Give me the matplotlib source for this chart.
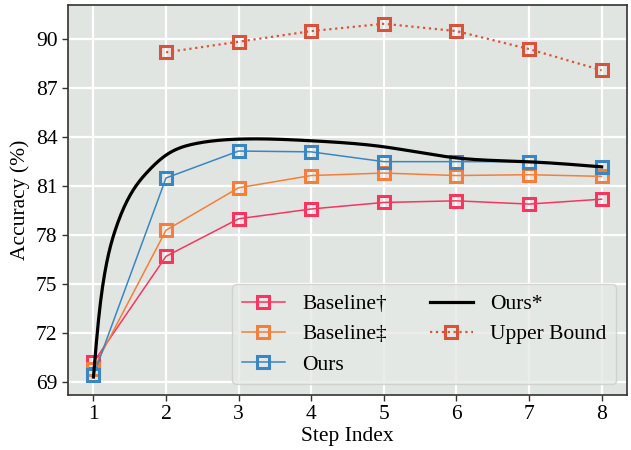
import numpy as np
import matplotlib
matplotlib.use("Agg")
import matplotlib.pyplot as plt

steps = [1, 2, 3, 4, 5, 6, 7, 8]
baseline_dagger = [70.2, 76.7, 79.0, 79.6, 80.0, 80.1, 79.9, 80.2]
baseline_ddagger = [69.8, 78.3, 80.9, 81.65, 81.8, 81.65, 81.7, 81.6]
ours = [69.4, 81.5, 83.15, 83.1, 82.5, 82.5, 82.5, 82.2]
upper_bound = [None, 89.2, 89.85, 90.5, 90.95, 90.5, 89.4, 88.1]

# Ours* smooth curve
ours_star_x = [1.0, 1.07, 1.165, 1.3, 1.5, 1.75, 2.0, 2.4, 3.0, 4.0, 5.0, 6.0, 7.0, 8.0]
ours_star_y = [69.3, 72.8, 75.9, 78.3, 80.4, 81.9, 82.9, 83.6, 83.88, 83.78, 83.41, 82.73, 82.49, 82.18]

yticks = [69, 72, 75, 78, 81, 84, 87, 90]
labels = ["Baseline\u2020", "Baseline\u2021", "Ours", "Ours*", "Upper Bound"]
colors = ["#f5365f", "#f47e3a", "#3a86c2", "#000000", "#d9533b"]


def natural_spline(x, y, xn):
    x = np.asarray(x, float); y = np.asarray(y, float)
    n = len(x); h = np.diff(x)
    A = np.zeros((n, n)); b = np.zeros(n)
    A[0, 0] = 1; A[-1, -1] = 1
    for i in range(1, n - 1):
        A[i, i - 1] = h[i - 1]; A[i, i] = 2 * (h[i - 1] + h[i]); A[i, i + 1] = h[i]
        b[i] = 3 * ((y[i + 1] - y[i]) / h[i] - (y[i] - y[i - 1]) / h[i - 1])
    c = np.linalg.solve(A, b)
    idx = np.clip(np.searchsorted(x, xn) - 1, 0, n - 2)
    bb = (y[1:] - y[:-1]) / h - h * (2 * c[:-1] + c[1:]) / 3
    d = (c[1:] - c[:-1]) / (3 * h)
    dx = xn - x[idx]
    return y[idx] + bb[idx] * dx + c[idx] * dx**2 + d[idx] * dx**3


plt.rcParams['font.family'] = ['Liberation Serif', 'DejaVu Serif']
plt.rcParams['font.size'] = 15.5

fig = plt.figure(figsize=(6.31, 4.5), dpi=100)
ax = fig.add_axes([0.1078, 0.1222, 0.8859, 0.8667])
ax.set_facecolor('#e1e5e2')
ax.grid(True, color='white', linewidth=1.6)
ax.set_axisbelow(True)
for s in ax.spines.values():
    s.set_color('#333333')
    s.set_linewidth(1.2)

mk = dict(marker='s', markersize=9, markerfacecolor='none', markeredgewidth=2.2)
ax.plot(steps, baseline_dagger, color=colors[0], linewidth=1.1, label=labels[0], **mk)
ax.plot(steps, baseline_ddagger, color=colors[1], linewidth=1.1, label=labels[1], **mk)
ax.plot(steps, ours, color=colors[2], linewidth=1.1, label=labels[2], **mk)
xs = np.linspace(1, 8, 500)
ax.plot(xs, natural_spline(ours_star_x, ours_star_y, xs), color=colors[3], linewidth=2.3, label=labels[3])
ub_x = [s for s, v in zip(steps, upper_bound) if v is not None]
ub_y = [v for v in upper_bound if v is not None]
ax.plot(ub_x, ub_y, color=colors[4], linewidth=1.6, linestyle=':', label=labels[4], **mk)

ax.set_xlim(0.65, 8.35)
ax.set_ylim(68.2, 92.1)
ax.set_xticks(steps)
ax.set_yticks(yticks)
ax.tick_params(direction='out', length=4, width=1, color='#333333')
ax.set_xlabel('Step Index', labelpad=2)
ax.set_ylabel('Accuracy (%)', labelpad=4)

leg = ax.legend(loc='lower right', ncol=2, frameon=True, fancybox=True,
                facecolor='#e6e9e6', edgecolor='#cccccc', framealpha=0.8,
                columnspacing=2.0, handletextpad=0.8, borderpad=0.45, labelspacing=0.47)

fig.savefig('out.png', dpi=100)
